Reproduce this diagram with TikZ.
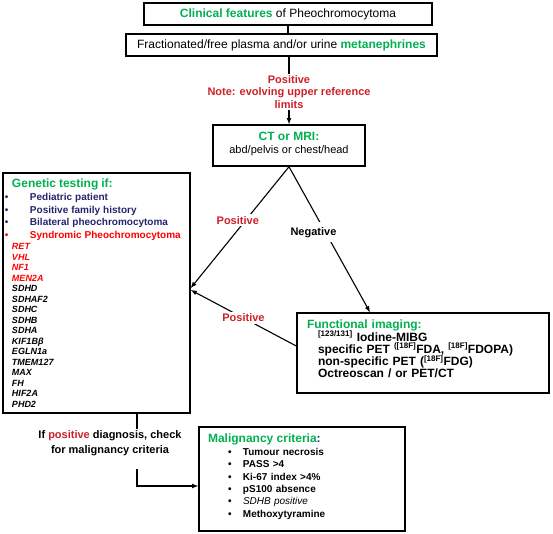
\documentclass[tikz,border=0pt]{standalone}
\usepackage{fontspec}
\setmainfont{Liberation Sans}
\usetikzlibrary{arrows,arrows.meta,positioning,calc}

\definecolor{cgreen}{RGB}{0,176,80}
\definecolor{pred}{RGB}{204,32,40}
\definecolor{sred}{RGB}{255,0,0}
\definecolor{navy}{RGB}{36,36,110}

\newcommand{\gbul}{\hspace*{-7pt}\makebox[25pt][l]{•}}
\newcommand{\mbul}{\hspace*{20pt}\makebox[15pt][l]{•}}
\newcommand{\fin}{\hspace*{11pt}}

\tikzset{
  box/.style={draw, line width=1.5pt, inner sep=0pt, font=\fontsize{11}{13}\selectfont},
  lbl/.style={font=\bfseries\fontsize{11}{12.5}\selectfont, fill=white, inner sep=2pt},
  conn/.style={-latex, line width=1.1pt}
}

\begin{document}
\begin{tikzpicture}[x=1pt,y=-1pt]
        \useasboundingbox (0,0) rectangle (553,534);

        % top boxes
        \node[box, minimum width=288pt, minimum height=22pt, font=\fontsize{12}{14}\selectfont] (clin) at (288,14) {\textcolor{cgreen}{\bfseries Clinical features} of Pheochromocytoma};
        \node[box, minimum width=311pt, minimum height=22pt, font=\fontsize{12}{14}\selectfont] (frac) at (281.5,45) {Fractionated/free plasma and/or urine \textcolor{cgreen}{\bfseries metanephrines}};

        % note under the tests
        \node[lbl, text=pred, align=center, fill=none, inner sep=1pt] (note) at (289,92) {Positive\\Note: evolving upper reference\\limits};

        % imaging box
        \node[box, minimum width=152pt, minimum height=41pt, align=center] (ct) at (289,145.5) {{\bfseries\fontsize{12}{14}\selectfont\color{cgreen}CT or MRI:}\\abd/pelvis or chest/head\rule[-6pt]{0pt}{6pt}};

        % ================== Genetic testing ==================
        \node[box, minimum width=187pt, minimum height=240pt, inner xsep=9pt, text width=169pt, align=left, font=\bfseries\fontsize{9}{10.5}\selectfont] (gen) at (96.5,293) {%
          {\fontsize{12}{13}\selectfont\color{cgreen}Genetic testing if:}\\[2.5pt]
          {\fontsize{10}{12}\selectfont\color{navy}\gbul Pediatric patient}\\[2.2pt]
          {\fontsize{10}{12}\selectfont\color{navy}\gbul Positive family history}\\[2.2pt]
          {\fontsize{10}{12}\selectfont\color{navy}\gbul Bilateral pheochromocytoma}\\[2.2pt]
          {\fontsize{10}{12}\selectfont\color{sred}\gbul Syndromic Pheochromocytoma}\\[0.5pt]
          {\itshape\color{sred}RET}\\
          {\itshape\color{sred}VHL}\\
          {\itshape\color{sred}NF1}\\
          {\itshape\color{sred}MEN2A}\\
          {\itshape SDHD}\\
          {\itshape SDHAF2}\\
          {\itshape SDHC}\\
          {\itshape SDHB}\\
          {\itshape SDHA}\\
          {\itshape KIF1Bβ}\\
          {\itshape EGLN1a}\\
          {\itshape TMEM127}\\
          {\itshape MAX}\\
          {\itshape FH}\\
          {\itshape HIF2A}\\
          {\itshape PHD2}};
        % ====================================================

        % functional imaging box
        \node[box, minimum width=252pt, minimum height=80pt, inner xsep=10pt, text width=232pt, align=left, font=\bfseries\fontsize{12}{12.2}\selectfont] (func) at (423,353) {%
          \lineskiplimit=-20pt\relax
          {\color{cgreen}Functional imaging:}\\
          \fin\textsuperscript{[123/131]} Iodine-MIBG\\
          \fin specific PET \textsuperscript{([18F]}FDA, \textsuperscript{[18F]}FDOPA)\\
          \fin non-specific PET (\textsuperscript{[18F]}FDG)\\
          \fin Octreoscan / or PET/CT\rule[-8pt]{0pt}{8pt}};

        % malignancy box
        \node[box, minimum width=206pt, minimum height=104pt, inner xsep=9pt, text width=188pt, align=left, font=\bfseries\fontsize{10}{12.3}\selectfont] (mal) at (302,479) {%
          {\fontsize{12}{13}\selectfont\color{cgreen}Malignancy criteria\color{navy}:}\\[0.7pt]
          \mbul Tumour necrosis\\
          \mbul PASS >4\\
          \mbul Ki-67 index >4\%\\
          \mbul pS100 absence\\
          \mbul{\mdseries\itshape SDHB positive}\\
          \mbul Methoxytyramine\rule[-7pt]{0pt}{7pt}};

        % check text
        \node[lbl, fill=none, inner sep=1pt, align=center, font=\bfseries\fontsize{11}{15}\selectfont] (check) at (110,443) {If \textcolor{pred}{positive} diagnosis, check\\for malignancy criteria};

        % arcs
        \draw[line width=1.1pt] (clin.south) -- (frac.north -| clin.south);
        \draw[line width=1.1pt] (frac.south -| note.north) -- (note.north);
        \draw[conn] (note.south) -- (ct.north);
        \draw[conn] (ct.south) -- node[lbl, text=pred, pos=.44, xshift=-8pt] {Positive} ([yshift=5pt]gen.east);
        \draw[conn] (ct.south) -- node[lbl, pos=.45, xshift=-12pt, inner sep=5pt] {Negative} ([xshift=-53pt]func.north);
        \draw[conn] ([yshift=7pt]func.west) -- node[lbl, text=pred] {Positive} ([yshift=3pt]gen.east);
        \draw[line width=1.1pt] ([xshift=40.5pt]gen.south) -- ([xshift=27pt]check.north);
        \draw[conn] ([xshift=27pt,yshift=-12pt]check.south) |- ([yshift=-7pt]mal.west);

    \end{tikzpicture}
\end{document}
